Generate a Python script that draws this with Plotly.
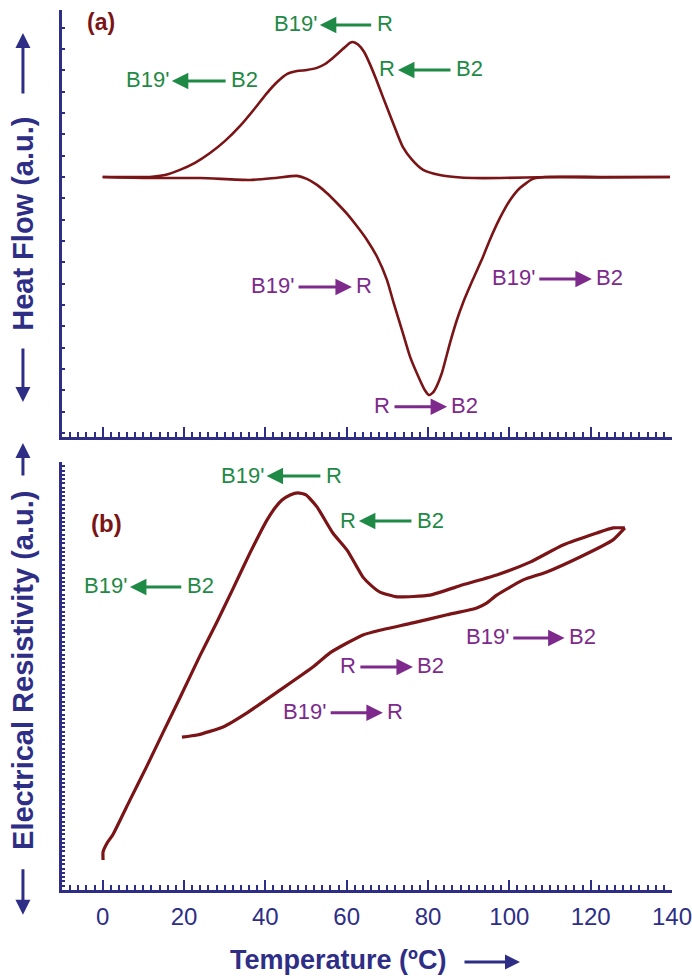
import plotly.graph_objects as go

# ---- (a) DSC heat flow: temperature (°C) vs heat flow (a.u.) ----
dsc_cool_T = [0, 11.6, 15.3, 19.0, 22.7, 26.4, 30.1, 33.8, 37.5, 40.4, 42.9, 45.3, 47.8,
              50.2, 52.7, 54.7, 56.6, 59.1, 60.8, 61.5, 62.8, 64.3, 65.8, 67.3, 68.9,
              71.4, 73.8, 76.1, 78.8, 82.9, 86.6, 91.1, 97.7, 110, 122.3, 139.5]
dsc_cool_H = [0, 0, 0.09, 0.33, 0.66, 1.12, 1.69, 2.39, 3.23, 3.93, 4.45, 4.82, 4.96,
              5.01, 5.11, 5.29, 5.57, 6.00, 6.28, 6.32, 6.20, 5.85, 5.25, 4.55, 3.75,
              2.53, 1.41, 0.80, 0.33, 0.09, 0.0, -0.05, -0.05, 0, -0.02, 0]

dsc_heat_T = [0, 11.6, 24.0, 36.2, 42.4, 47.8, 50.2, 52.7, 55.1, 57.6, 60.1, 62.5, 65.0,
              67.5, 69.9, 71.4, 73.6, 75.6, 78.0, 79.2, 80.2, 81.2, 82.1, 83.4, 85.4,
              87.1, 88.6, 91.0, 93.5, 95.2, 97.7, 100.2, 102.6, 105.8, 108.8, 122.3, 139.5]
dsc_heat_H = [0, -0.05, -0.05, -0.14, -0.05, 0.05, -0.09, -0.37, -0.75, -1.22, -1.73, -2.30, -2.95,
              -3.75, -4.82, -5.80, -7.17, -8.43, -9.51, -9.98, -10.21, -10.10, -9.82, -9.19, -7.78,
              -6.70, -5.90, -4.82, -3.75, -2.95, -1.92, -1.08, -0.52, -0.09, 0, 0, 0]

# ---- (b) electrical resistivity: temperature (°C) vs resistivity (a.u.) ----
res_cool_T = [0.1, 0.1, 1.1, 2.5, 6.7, 10.9, 14.8, 19.0, 23.9, 28.1, 32.0, 36.2, 38.7,
              40.4, 42.4, 44.1, 46.1, 48.0, 50.0, 52.7, 56.6, 60.1, 62.5, 64.0, 66.2,
              68.2, 72.4, 80.5, 88.6, 96.9, 105.1, 113.2, 121.5, 125.5, 128.4]
res_cool_R = [7.0, 8.9, 11.0, 12.9, 21.0, 29.0, 36.7, 44.9, 54.7, 62.6, 70.3, 78.7, 83.4,
              86.4, 89.3, 91.1, 92.3, 92.8, 92.3, 89.5, 83.4, 79.4, 75.5, 73.1, 71.0,
              69.6, 68.5, 68.9, 71.3, 73.6, 76.6, 80.6, 83.4, 84.6, 84.6]

res_heat_T = [19.5, 23.2, 29.6, 35.5, 43.6, 51.7, 55.9, 60.1, 64.0, 68.2, 76.3, 84.7, 92.0,
              94.5, 96.9, 103.3, 109.2, 117.4, 125.5, 128.4]
res_heat_R = [35.7, 36.2, 38.1, 41.4, 46.7, 52.1, 55.4, 57.7, 59.6, 60.7, 62.4, 64.3, 65.9,
              67.1, 68.9, 72.4, 74.3, 77.8, 81.8, 84.6]

# phase-transformation labels: (panel, left text, right text, arrow start, arrow end, level, kind)
transitions = [
    ("a", "B19'", "R",  53.4, 66.4, 7.12, "cool"),
    ("a", "B19'", "B2", 17.0, 30.6, 4.50, "cool"),
    ("a", "R",    "B2", 72.6, 85.9, 5.01, "cool"),
    ("a", "B19'", "R",  47.8, 61.3, -5.15, "heat"),
    ("a", "B19'", "B2", 107.0, 120.3, -4.78, "heat"),
    ("a", "R",    "B2", 71.4, 84.7, -10.77, "heat"),
    ("b", "B19'", "R",  40.3, 53.9, 96.7, "cool"),
    ("b", "B19'", "B2", 6.7, 19.7, 70.8, "cool"),
    ("b", "R",    "B2", 63.0, 76.3, 86.2, "cool"),
    ("b", "B19'", "B2", 100.6, 113.6, 58.9, "heat"),
    ("b", "R",    "B2", 63.0, 76.3, 52.1, "heat"),
    ("b", "B19'", "R",  55.7, 68.9, 41.4, "heat"),
]

NAVY = "#2e2e86"
CURVE = "#7a1416"
GREEN = "#1f8a46"
PURPLE = "#7d2a8c"
FONT = "Liberation Sans, Arial, sans-serif"

fig = go.Figure()
fig.add_trace(go.Scatter(x=dsc_cool_T, y=dsc_cool_H, mode="lines", xaxis="x", yaxis="y",
                         line=dict(color=CURVE, width=2.6, shape="spline", smoothing=0.6)))
fig.add_trace(go.Scatter(x=dsc_heat_T, y=dsc_heat_H, mode="lines", xaxis="x", yaxis="y",
                         line=dict(color=CURVE, width=2.6, shape="spline", smoothing=0.6)))
fig.add_trace(go.Scatter(x=res_cool_T, y=res_cool_R, mode="lines", xaxis="x2", yaxis="y2",
                         line=dict(color=CURVE, width=3.2, shape="spline", smoothing=0.5)))
fig.add_trace(go.Scatter(x=res_heat_T, y=res_heat_R, mode="lines", xaxis="x2", yaxis="y2",
                         line=dict(color=CURVE, width=3.2, shape="spline", smoothing=0.5)))

annotations = []
for panel, ltxt, rtxt, x0, x1, yv, kind in transitions:
    xr, yr = ("x", "y") if panel == "a" else ("x2", "y2")
    col = GREEN if kind == "cool" else PURPLE
    tip, tail = (x0, x1) if kind == "cool" else (x1, x0)
    annotations.append(dict(x=tip, y=yv, ax=tail, ay=yv, xref=xr, yref=yr, axref=xr, ayref=yr,
                            text="", showarrow=True, arrowhead=2, arrowsize=1.1,
                            arrowwidth=3, arrowcolor=col))
    annotations.append(dict(x=x0, y=yv, xref=xr, yref=yr, text=ltxt, showarrow=False,
                            xanchor="right", yanchor="middle", xshift=-1, yshift=1,
                            font=dict(family=FONT, size=22, color=col)))
    annotations.append(dict(x=x1, y=yv, xref=xr, yref=yr, text=rtxt, showarrow=False,
                            xanchor="left", yanchor="middle", xshift=2, yshift=1,
                            font=dict(family=FONT, size=22, color=col)))

# panel tags
annotations.append(dict(x=-0.4, y=7.26, xref="x", yref="y", text="<b>(a)</b>", showarrow=False,
                        xanchor="center", yanchor="middle",
                        font=dict(family=FONT, size=23, color=CURVE)))
annotations.append(dict(x=1.0, y=85.7, xref="x2", yref="y2", text="<b>(b)</b>", showarrow=False,
                        xanchor="center", yanchor="middle",
                        font=dict(family=FONT, size=24, color=CURVE)))

# axis titles with direction arrows
title_font = dict(family=FONT, size=29, color=NAVY)
arrow_style = dict(xref="paper", yref="paper", text="", showarrow=True,
                   arrowhead=2, arrowsize=1.0, arrowwidth=3, arrowcolor=NAVY)
annotations += [
    dict(x=-0.064, y=0.757, xref="paper", yref="paper", text="<b>Heat Flow (a.u.)</b>",
         textangle=-90, showarrow=False, xanchor="center", yanchor="middle", font=title_font),
    dict(x=-0.064, y=0.974, ax=0, ay=62, **arrow_style),
    dict(x=-0.064, y=0.5545, ax=0, ay=-55, **arrow_style),
    dict(x=-0.064, y=0.25, xref="paper", yref="paper", text="<b>Electrical Resistivity (a.u.)</b>",
         textangle=-90, showarrow=False, xanchor="center", yanchor="middle", font=title_font),
    dict(x=-0.064, y=0.5080, ax=0, ay=34, **arrow_style),
    dict(x=-0.064, y=-0.028, ax=0, ay=-47, **arrow_style),
    dict(x=0.4525, y=-0.0795, xref="paper", yref="paper", text="<b>Temperature (ºC)</b>",
         showarrow=False, xanchor="center", yanchor="middle",
         font=dict(family=FONT, size=27, color=NAVY)),
    dict(x=0.7508, y=-0.0818, ax=-57, ay=0, **arrow_style),
]

xaxis_style = dict(range=[-10, 140], showline=True, linecolor=NAVY, linewidth=3,
                   ticks="inside", ticklen=10, tickwidth=2, tickcolor=NAVY,
                   tick0=0, dtick=20, showgrid=False, zeroline=False, automargin=False,
                   minor=dict(ticks="inside", ticklen=5, tickwidth=1.5, tickcolor=NAVY,
                              dtick=2, tick0=0, showgrid=False))
yaxis_style = dict(showline=True, linecolor=NAVY, linewidth=3, ticks="inside", ticklen=3,
                   tickwidth=1.5, tickcolor=NAVY, dtick=1, tick0=0, showticklabels=False,
                   showgrid=False, zeroline=False, automargin=False)

fig.update_layout(
    width=692, height=978,
    margin=dict(l=62, r=20, t=10, b=88),
    paper_bgcolor="white", plot_bgcolor="white",
    showlegend=False,
    xaxis=dict(**xaxis_style, anchor="y", showticklabels=False),
    yaxis=dict(**yaxis_style, domain=[0.5148, 1.0], range=[-12.18, 7.82], anchor="x"),
    xaxis2=dict(**xaxis_style, anchor="y2", showticklabels=True, ticklabeloverflow="allow",
                tickfont=dict(family=FONT, size=24, color=NAVY), ticklabelstandoff=3),
    yaxis2=dict(**yaxis_style, domain=[0.0, 0.4864], range=[0, 100], anchor="x2"),
    annotations=annotations,
)

fig.write_html("out.html")
